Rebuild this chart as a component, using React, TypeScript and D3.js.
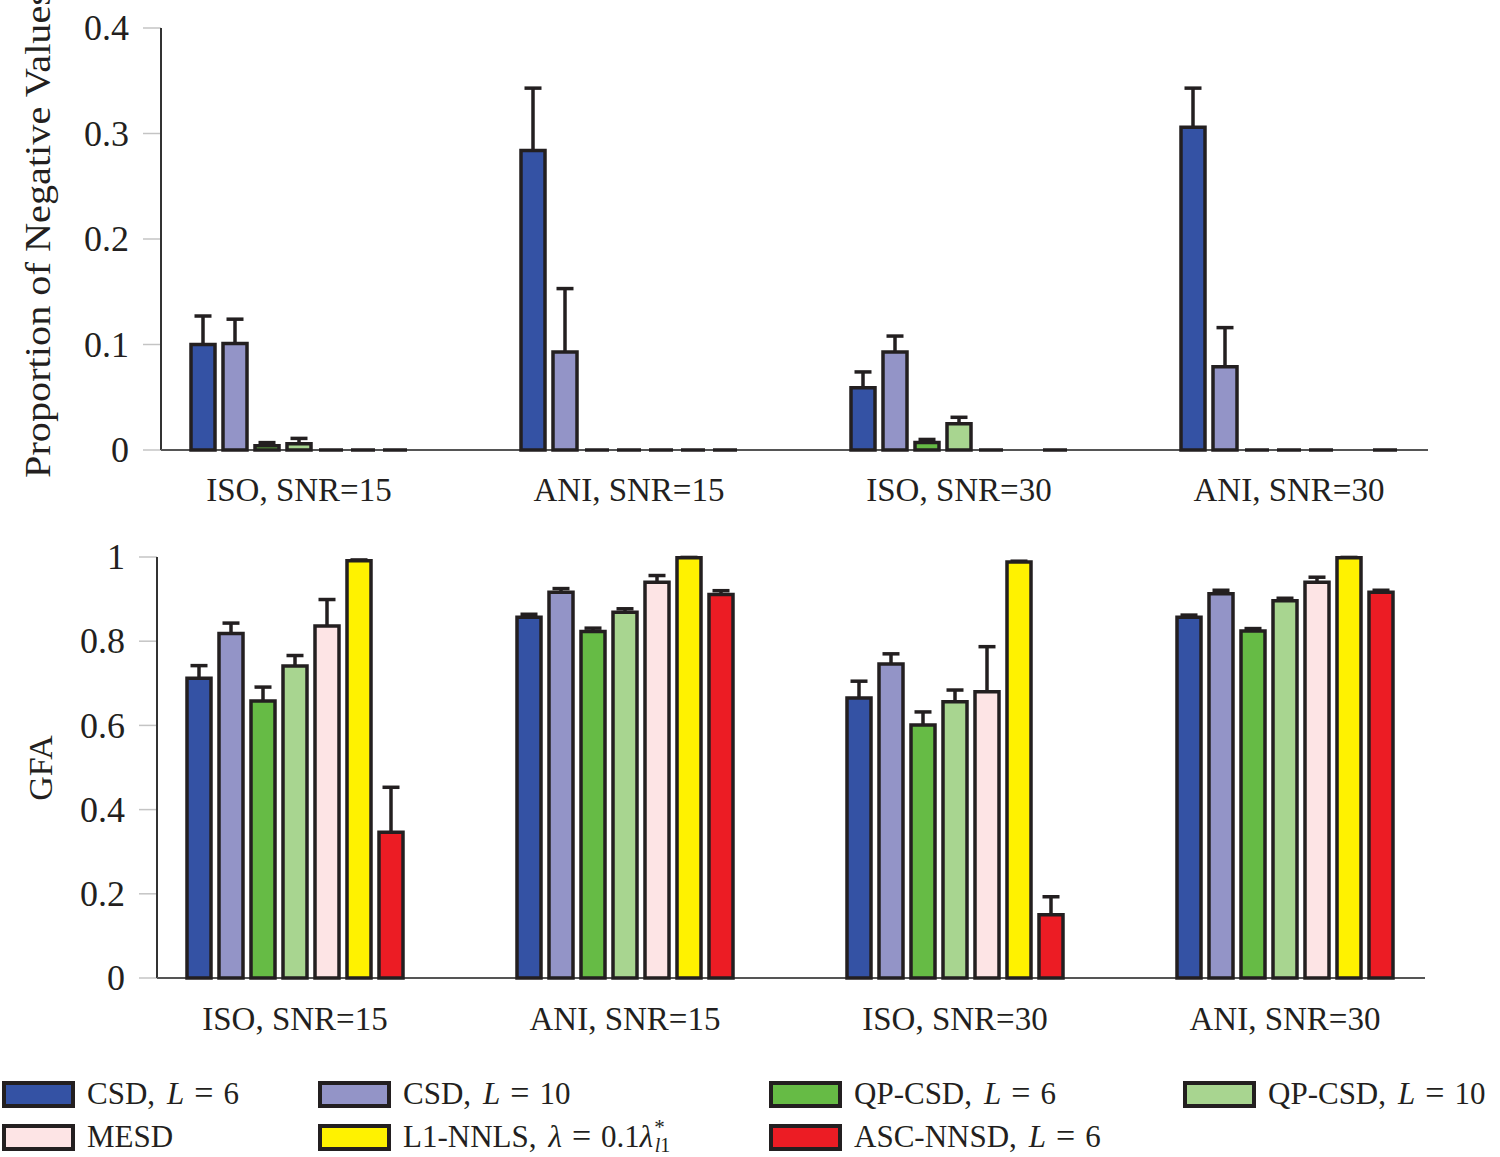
import React from "react";
import * as d3 from "d3";

const groups = ["ISO, SNR=15", "ANI, SNR=15", "ISO, SNR=30", "ANI, SNR=30"];
const seriesKeys = ["CSD6", "CSD10", "QP6", "QP10", "MESD", "L1", "ASC"];
const seriesColors = ["#3452a4", "#9394c7", "#66bb45", "#a8d590", "#fde4e5", "#fff200", "#ec1c24"];

// Top panel: proportion of negative values (null = not drawn)
const negCSD6 = [0.1, 0.284, 0.059, 0.306];
const negCSD10 = [0.101, 0.093, 0.093, 0.079];
const negQP6 = [0.004, 0, 0.007, 0];
const negQP10 = [0.006, 0, 0.025, 0];
const negMESD = [0, 0, 0, 0];
const negL1 = [0, 0, null, null];
const negASC = [0, 0, 0, 0];
const negErrCSD6 = [0.027, 0.059, 0.015, 0.037];
const negErrCSD10 = [0.023, 0.06, 0.015, 0.037];
const negErrQP6 = [0.003, 0, 0.003, 0];
const negErrQP10 = [0.005, 0, 0.006, 0];
const negErrMESD = [0, 0, 0, 0];
const negErrL1 = [0, 0, 0, 0];
const negErrASC = [0, 0, 0, 0];

// Bottom panel: GFA
const gfaCSD6 = [0.712, 0.857, 0.665, 0.857];
const gfaCSD10 = [0.818, 0.916, 0.746, 0.913];
const gfaQP6 = [0.658, 0.823, 0.601, 0.824];
const gfaQP10 = [0.741, 0.869, 0.656, 0.896];
const gfaMESD = [0.836, 0.94, 0.68, 0.94];
const gfaL1 = [0.991, 0.998, 0.988, 0.998];
const gfaASC = [0.346, 0.911, 0.15, 0.916];
const gfaErrCSD6 = [0.03, 0.007, 0.04, 0.005];
const gfaErrCSD10 = [0.025, 0.009, 0.024, 0.008];
const gfaErrQP6 = [0.033, 0.008, 0.031, 0.006];
const gfaErrQP10 = [0.025, 0.008, 0.028, 0.006];
const gfaErrMESD = [0.063, 0.016, 0.107, 0.012];
const gfaErrL1 = [0.002, 0.001, 0.002, 0.001];
const gfaErrASC = [0.107, 0.009, 0.043, 0.005];

const topTicks = [0, 0.1, 0.2, 0.3, 0.4];
const topTickLabels = ["0", "0.1", "0.2", "0.3", "0.4"];
const botTicks = [0, 0.2, 0.4, 0.6, 0.8, 1];
const botTickLabels = ["0", "0.2", "0.4", "0.6", "0.8", "1"];

const negValues = [negCSD6, negCSD10, negQP6, negQP10, negMESD, negL1, negASC];
const negErrors = [negErrCSD6, negErrCSD10, negErrQP6, negErrQP10, negErrMESD, negErrL1, negErrASC];
const gfaValues = [gfaCSD6, gfaCSD10, gfaQP6, gfaQP10, gfaMESD, gfaL1, gfaASC];
const gfaErrors = [gfaErrCSD6, gfaErrCSD10, gfaErrQP6, gfaErrQP10, gfaErrMESD, gfaErrL1, gfaErrASC];

const FONT = "'Liberation Serif', 'Times New Roman', serif";
const INK = "#231f20";

type PanelProps = {
  axisX: number;
  axisEnd: number;
  y0: number;
  y1: number;
  domainMax: number;
  ticks: number[];
  tickLabels: string[];
  values: (number | null)[][];
  errors: number[][];
  labelY: number;
};

function Panel(p: PanelProps) {
  const yScale = d3.scaleLinear().domain([0, p.domainMax]).range([p.y0, p.y1]);
  const xGroup = d3
    .scalePoint<string>()
    .domain(groups)
    .range([p.axisX + 138, p.axisX + 138 + 990]);
  const xSeries = d3
    .scaleBand<string>()
    .domain(seriesKeys)
    .range([-112, 112])
    .paddingInner(0.25)
    .paddingOuter(0.125);
  const bw = xSeries.bandwidth();
  const marks: React.ReactNode[] = [];
  groups.forEach((g, gi) => {
    seriesKeys.forEach((s, si) => {
      const v = p.values[si][gi];
      if (v === null || v === undefined) return;
      const e = p.errors[si][gi];
      const x0 = (xGroup(g) as number) + (xSeries(s) as number);
      const x1 = x0 + bw;
      const yt = yScale(v);
      const yb = yScale(0);
      const xc = (x0 + x1) / 2;
      if (e > 0) {
        const ye = yScale(v + e);
        marks.push(
          <g key={`e-${gi}-${si}`} stroke={INK} strokeWidth={3.5}>
            <line x1={xc} x2={xc} y1={yt} y2={ye} />
            <line x1={xc - 8.5} x2={xc + 8.5} y1={ye} y2={ye} />
          </g>
        );
      }
      marks.push(
        <path
          key={`b-${gi}-${si}`}
          d={`M${x0},${yb}V${yt}H${x1}V${yb}Z`}
          fill={seriesColors[si]}
          stroke={INK}
          strokeWidth={3.5}
          strokeLinejoin="miter"
        />
      );
    });
  });
  return (
    <g>
      {p.ticks.map((t, i) => (
        <g key={`t-${i}`}>
          <line x1={p.axisX - 18} x2={p.axisX} y1={yScale(t)} y2={yScale(t)} stroke="#c4c4c4" strokeWidth={1.5} />
          <text
            x={p.axisX - 32}
            y={yScale(t)}
            dy="0.34em"
            textAnchor="end"
            fontFamily={FONT}
            fontSize={36}
            fill={INK}
          >
            {p.tickLabels[i]}
          </text>
        </g>
      ))}
      <line x1={p.axisX} x2={p.axisX} y1={p.y1} y2={p.y0} stroke="#333" strokeWidth={2} />
      <line x1={p.axisX} x2={p.axisEnd} y1={p.y0} y2={p.y0} stroke="#555" strokeWidth={2} />
      {marks}
      {groups.map((g) => (
        <text
          key={g}
          x={xGroup(g) as number}
          y={p.labelY}
          textAnchor="middle"
          fontFamily={FONT}
          fontSize={33}
          fill={INK}
        >
          {g}
        </text>
      ))}
    </g>
  );
}

const legendSwatchX = [2, 318, 769, 1183];
const legendRowY = [1081, 1124];

function MathL({ name, n }: { name: string; n: string }) {
  return (
    <>{name},<tspan dx={12} fontStyle="italic">L</tspan><tspan dx={10} fontSize={34}>=</tspan><tspan dx={10}>{n}</tspan></>
  );
}

function LegendLabel({ i }: { i: number }) {
  switch (i) {
    case 0:
      return <MathL name="CSD" n="6" />;
    case 1:
      return <MathL name="CSD" n="10" />;
    case 2:
      return <MathL name="QP-CSD" n="6" />;
    case 3:
      return <MathL name="QP-CSD" n="10" />;
    case 4:
      return <>MESD</>;
    case 5:
      return (
        <>L1-NNLS,<tspan dx={12} fontStyle="italic">λ</tspan><tspan dx={10} fontSize={34}>=</tspan><tspan dx={10}>0.1</tspan><tspan fontStyle="italic">λ</tspan><tspan fontSize={21} dy={-13} dx={1}>*</tspan><tspan fontSize={20} dy={18} dx={-10}><tspan fontStyle="italic">l</tspan>1</tspan></>
      );
    default:
      return <MathL name="ASC-NNSD" n="6" />;
  }
}

export default function App() {
  return (
    <svg width={1500} height={1157} style={{ display: "block", position: "absolute", left: 0, top: 0 }}>
      <rect width={1500} height={1157} fill="#fff" />
      <Panel
        axisX={161}
        axisEnd={1428}
        y0={450}
        y1={28}
        domainMax={0.4}
        ticks={topTicks}
        tickLabels={topTickLabels}
        values={negValues}
        errors={negErrors}
        labelY={501}
      />
      <Panel
        axisX={157}
        axisEnd={1425}
        y0={978}
        y1={557}
        domainMax={1}
        ticks={botTicks}
        tickLabels={botTickLabels}
        values={gfaValues}
        errors={gfaErrors}
        labelY={1030}
      />
      <text
        transform="translate(50,478) rotate(-90)"
        fontFamily={FONT}
        fontSize={35}
        textLength={488}
        lengthAdjust="spacingAndGlyphs"
        fill={INK}
      >
        Proportion of Negative Values
      </text>
      <text transform="translate(52,768) rotate(-90)" textAnchor="middle" fontFamily={FONT} fontSize={34} fill={INK}>
        GFA
      </text>
      {seriesKeys.map((s, i) => {
        const col = i % 4;
        const row = Math.floor(i / 4);
        const x = legendSwatchX[col];
        const y = legendRowY[row];
        return (
          <g key={s}>
            <rect x={x + 2} y={y + 2} width={69} height={23} fill={seriesColors[i]} stroke={INK} strokeWidth={4} />
            <text x={x + 85} y={y + 23} fontFamily={FONT} fontSize={31} fill={INK}>
              <LegendLabel i={i} />
            </text>
          </g>
        );
      })}
    </svg>
  );
}
